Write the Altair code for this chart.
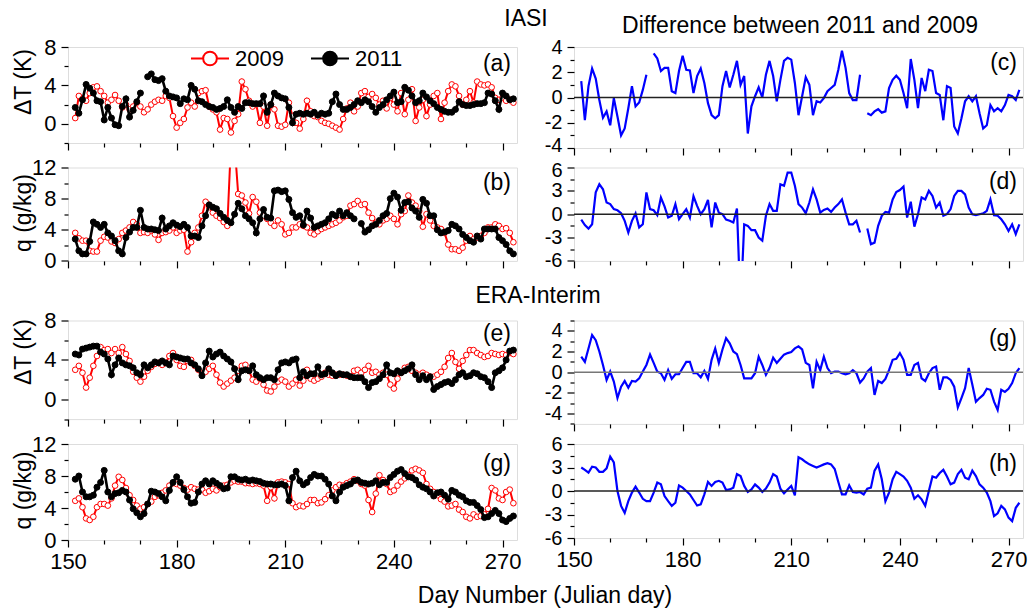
import altair as alt
import pandas as pd

FONT = "Liberation Sans"
DAYS = list(range(152, 274))  # Julian days 152..273

# ---------------- IASI, Delta T (K) ----------------
dT_iasi_2009 = [
    0.6, 2.9, 2.6, 2.4, 3.2, 3.8, 3.9, 3.4, 2.9, 2.2,
    2.5, 3.0, 2.4, 1.7, 2.0, 1.5, 1.8, 2.2, 1.8, 1.2,
    1.5, 2.0, 2.3, 2.5, 2.4, 2.9, 2.7, 0.8, -0.4, 0.1,
    0.5, 1.7, 2.2, 1.8, 3.2, 3.4, 3.5, 1.8, 1.5, 1.2,
    -0.6, 0.6, 0.5, -0.9, 0.3, 1.0, 4.4, 3.6, 2.4, 1.8,
    2.0, 0.1, 1.8, -0.2, 2.0, 1.5, -0.2, -0.3, -0.1, 2.2,
    0.8, 0.1, -0.5, 0.5, 2.4, 1.3, 0.8, 0.7, 0.3, 0.1,
    0.0, -0.2, -0.4, -0.6, 0.5, 1.6, 2.2, 1.3, 1.8, 3.2,
    3.4, 2.8, 3.1, 2.7, 2.0, 2.4, 1.6, 2.7, 2.0, 1.3,
    3.2, 1.0, 2.5, 3.6, 0.3, 1.7, 2.5, 0.8, 2.0, 2.9,
    3.2, 0.5, 2.2, 3.4, 4.1, 3.9, 2.9, 2.0, 2.5, 3.4,
    2.2, 4.4, 4.1, 4.0, 4.1, 3.8, 2.7, 2.5, 2.7, 2.4,
    2.5, 2.2,
]
dT_iasi_2011 = [
    1.7, 1.1, 2.5, 4.1, 3.7, 3.2, 2.4, 2.3, 0.4, 1.7,
    0.6, -0.1, -0.2, 1.8, 2.6, 0.7, 1.4, 2.3, 3.2, None,
    4.9, 5.2, 4.6, 4.5, 4.7, 3.4, 2.9, 2.8, 2.7, 2.1,
    2.6, 2.5, 4.0, 3.6, 2.4, 2.3, 2.0, 1.8, 1.7, 1.5,
    1.6, 1.8, 2.5, 1.7, 1.2, 1.8, 1.6, 2.2, 2.2, 2.1,
    2.1, 2.1, 2.9, 1.2, 2.0, 3.2, 2.9, 2.7, 2.6, 1.7,
    0.1, 1.0, 1.1, 1.0, 1.1, 1.0, 1.2, 0.9, 1.1, 1.0,
    1.1, 2.3, 3.1, 2.0, 1.5, 1.5, 1.7, 2.0, 2.4, 2.2,
    2.5, 2.3, 1.8, 1.2, 1.7, 2.0, 2.5, 2.9, 3.3, 2.2,
    2.3, 3.8, 3.5, 2.9, 2.2, 2.4, 3.2, 2.8, 2.4, 2.1,
    1.7, 1.5, 1.3, 1.2, 1.2, 1.5, 2.3, 2.0, 1.9, 1.9,
    2.0, 2.1, 2.1, 2.2, 3.2, 3.1, 2.4, 1.5, 3.2, 2.9,
    2.5, 2.6,
]

# ---------------- IASI, q (g/kg) ----------------
q_iasi_2009 = [
    3.6, 2.9, 2.6, 2.6, 1.3, 1.2, 1.2, 2.6, 3.1, 3.0,
    2.5, 2.3, 2.8, 3.6, 3.9, 4.3, 5.0, 4.7, 3.6, 3.7,
    3.6, 3.9, 3.4, 2.7, 3.6, 3.7, 3.9, 4.3, 3.6, 3.9,
    4.0, 1.2, 2.4, 3.6, 4.3, 5.8, 7.6, 6.9, 6.2, 5.8,
    5.5, 5.0, 4.5, 15.0, 15.0, 8.6, 8.4, 7.5, 6.1, 8.2,
    7.6, 6.2, 5.8, 5.4, 4.9, 4.5, 5.2, 4.7, 3.4, 3.6,
    4.3, 4.3, 4.7, 4.5, 4.3, 3.6, 3.4, 3.8, 4.1, 4.3,
    4.5, 4.7, 4.9, 5.2, 5.6, 5.8, 7.1, 7.3, 7.7, 7.2,
    7.3, 6.2, 5.5, 4.9, 4.7, 5.2, 5.4, 5.8, 5.4, 4.7,
    6.0, 6.4, 8.4, 7.5, 7.1, 6.4, 4.4, 6.0, 5.2, 4.5,
    4.3, 4.1, 3.6, 2.1, 1.5, 1.5, 1.3, 1.7, 2.6, 3.2,
    2.8, 3.0, 3.2, 3.6, 4.3, 4.3, 4.7, 4.5, 4.1, 4.2,
    3.6, 2.4,
]
q_iasi_2011 = [
    2.8, 1.3, 0.9, 0.9, 2.5, 5.0, 4.7, 4.3, 4.7, 3.6,
    3.2, 2.6, 1.3, 0.9, 3.0, 3.7, 4.3, 4.3, 6.5, 4.3,
    4.1, 4.1, 4.0, 3.9, 5.5, 4.1, 4.5, 4.9, 4.6, 4.4,
    4.7, 4.3, 3.2, 3.2, 3.0, 4.5, 5.8, 7.2, 6.9, 6.7,
    6.1, 5.6, 5.2, 4.9, 6.0, 7.4, 6.7, 5.8, 5.4, 4.9,
    3.6, 5.4, 6.6, 5.6, 5.5, 9.0, 9.1, 8.9, 9.0, 7.9,
    6.2, 5.6, 5.8, 4.6, 6.4, 5.5, 4.3, 4.5, 4.7, 4.9,
    5.4, 6.0, 5.8, 6.4, 5.8, 6.2, 5.8, 5.4, None, 4.8,
    3.7, 4.0, 4.5, 4.7, 5.2, 5.8, 6.1, 8.0, 8.7, 8.2,
    6.5, 7.5, 7.6, 6.8, 6.4, 5.6, 7.9, 7.4, 5.8, 5.8,
    4.0, 3.6, 3.7, 3.9, 4.7, 4.5, 4.1, 3.4, 3.0, 2.6,
    2.4, 3.2, 2.8, 4.1, 4.1, 4.1, 4.1, 3.0, 2.6, 2.1,
    1.3, 0.9,
]

# ---------------- ERA-Interim, Delta T (K) ----------------
dT_era_2009 = [
    3.0, 3.4, 2.7, 1.2, 2.2, 3.4, 4.4, 5.3, 5.0, 5.1,
    4.7, 5.1, 4.7, 5.3, 4.6, 3.9, 2.8, 2.2, 1.8, 2.3,
    2.9, 3.3, 3.6, 3.7, 3.5, 3.7, 4.4, 4.7, 4.0, 3.4,
    3.3, 3.9, 4.0, 3.4, 3.0, 2.6, 2.8, 3.1, 3.4, 2.5,
    1.7, 1.3, 1.6, 1.9, 2.2, 2.9, 3.4, 3.5, 2.9, 2.0,
    1.8, 2.1, 1.5, 0.9, 0.8, 1.3, 1.8, 2.0, 1.8, 1.3,
    1.6, 2.0, 1.4, 1.9, 3.0, 2.1, 1.9, 2.1, 2.3, 2.7,
    2.5, 2.4, 2.5, 2.5, 2.5, 2.4, 2.3, 2.9, 3.0, 2.7,
    3.0, 3.4, 2.7, 2.8, 2.5, 2.7, 2.5, 1.5, 1.1, 2.1,
    2.7, 3.2, 3.3, 2.9, 2.7, 2.5, 2.7, 2.5, 2.3, 2.3,
    2.5, 2.8, 3.3, 4.2, 4.7, 3.8, 3.1, 3.9, 4.5, 5.0,
    5.0, 4.7, 4.5, 4.3, 4.4, 4.7, 4.6, 4.5, 4.6, 4.5,
    4.7, 4.6,
]
dT_era_2011 = [
    4.6, 4.5, 5.1, 5.2, 5.3, 5.4, 5.4, 4.8, 4.6, 4.1,
    2.5, 3.5, 4.2, 3.7, 3.5, 3.4, 3.2, 2.7, 2.5, 3.5,
    3.2, 3.5, 3.8, 3.7, 3.9, 3.7, 3.5, 4.4, 4.3, 4.2,
    4.1, 4.1, 3.7, 3.5, 3.1, 2.4, 3.7, 4.9, 4.3, 4.6,
    4.8, 4.4, 4.1, 3.8, 3.1, 2.0, 2.9, 3.0, 2.9, 3.4,
    2.5, 2.2, 2.0, 2.2, 2.2, 2.0, 3.0, 3.7, 3.8, 3.7,
    4.0, 4.1, 2.2, 2.8, 2.4, 2.6, 2.6, 3.3, 2.5, 2.6,
    3.1, 2.7, 2.4, 2.6, 2.5, 2.5, 2.3, 2.2, 2.2, 2.2,
    1.8, 1.2, 1.7, 1.8, 2.1, 2.5, 3.5, 2.7, 2.6, 2.9,
    2.7, 2.9, 3.1, 3.5, 2.5, 2.0, 2.4, 2.0, 2.3, 1.0,
    1.3, 1.5, 1.7, 1.8, 1.6, 2.0, 2.5, 2.7, 2.3, 2.4,
    2.7, 2.6, 2.3, 2.2, 1.8, 1.2, 2.7, 2.9, 3.2, 4.0,
    4.9, 5.0,
]

# ---------------- ERA-Interim, q (g/kg) ----------------
q_era_2009 = [
    4.9, 5.2, 4.1, 2.7, 2.5, 2.9, 4.1, 4.5, 4.5, 4.3,
    5.2, 6.8, 7.9, 7.5, 6.5, 5.6, 5.0, 4.3, 3.9, 4.1,
    4.5, 4.8, 5.4, 5.6, 5.9, 6.2, 6.8, 7.1, 7.0, 6.8,
    6.5, 6.3, 6.6, 6.4, 6.3, 6.3, 5.9, 6.1, 6.4, 6.2,
    6.6, 6.8, 6.9, 7.2, 7.4, 7.3, 7.3, 7.1, 7.1, 7.0,
    7.1, 7.0, 6.8, 4.9, 6.6, 5.2, 7.2, 7.3, 7.2, 7.0,
    4.6, 4.1, 4.3, 4.2, 4.5, 5.0, 5.0, 4.6, 4.7, 5.1,
    5.6, 6.2, 6.6, 6.9, 6.8, 7.1, 7.3, 7.6, 7.4, 7.0,
    6.8, 5.0, 3.5, 5.8, 8.1, 7.5, 7.0, 6.0, 6.2, 6.8,
    7.3, 7.7, 8.1, 8.7, 8.9, 8.7, 8.4, 7.0, 6.4, 6.0,
    5.6, 5.1, 4.8, 4.2, 4.3, 4.5, 3.8, 3.5, 2.9, 2.7,
    3.2, 2.9, 3.0, 3.2, 3.9, 6.5, 6.2, 5.2, 5.0, 6.0,
    6.3, 4.6,
]
q_era_2011 = [
    7.6, 8.0, 6.0, 5.4, 5.4, 5.6, 6.6, 7.2, 8.7, 6.0,
    5.4, 5.8, 5.9, 6.2, 6.0, 5.0, 3.9, 3.4, 2.9, 3.3,
    4.5, 6.1, 6.0, 5.8, 5.4, 4.9, 6.2, 7.2, 7.9, 7.2,
    6.3, 5.4, 4.6, 4.7, 6.0, 7.0, 7.4, 7.0, 7.4, 7.1,
    6.8, 6.4, 6.5, 7.9, 7.9, 7.6, 7.5, 7.6, 7.4, 7.5,
    7.4, 7.3, 7.1, 7.0, 7.0, 6.9, 6.9, 7.0, 6.8, 4.9,
    7.8, 8.6, 7.4, 6.9, 7.2, 7.8, 8.2, 8.0, 8.0, 7.6,
    7.0, 5.5, 4.9, 6.0, 6.6, 6.8, 7.0, 7.4, 7.5, 7.2,
    7.1, 7.0, 7.1, 7.4, 6.9, 7.2, 7.2, 7.8, 8.2, 8.6,
    8.8, 8.3, 7.9, 7.8, 7.5, 6.9, 6.6, 6.4, 6.0, 5.5,
    5.9, 6.0, 5.6, 5.1, 6.2, 6.0, 5.6, 5.4, 4.9, 4.7,
    4.7, 4.3, 3.8, 2.8, 2.9, 3.3, 3.7, 3.3, 2.5, 2.3,
    2.7, 3.0,
]

# ---------------- Differences 2011 - 2009 ----------------
diff_dT_iasi = [
    1.3, -1.8, 0.9, 2.3, 1.5, -0.2, -1.6, -1.1, -2.2, -0.05,
    -1.5, -3.0, -2.45, -0.85, 0.9, -0.7, -0.4, 0.6, 1.8, None,
    3.5, 3.1, 2.1, 2.35, 2.35, 0.5, 0.35, 2.1, 3.3, 2.2,
    2.15, 0.35, 1.7, 2.3, 1.15, -0.45, -1.4, -1.65, -1.4, 0.9,
    2.1, 0.8, 1.8, 2.9, 1.0, 1.7, -2.85, -0.7, 0.1, 0.8,
    0.0, 1.8, 2.9, 1.7, -0.3, 1.4, 2.9, 3.15, 3.0, 1.15,
    -1.4, 0.1, 1.6, 1.0, -1.4, -0.3, -0.4, -0.05, 0.5, 0.75,
    1.0, 2.2, 3.7, 2.35, 0.35, -0.2, -0.2, 1.8, None, -1.25,
    -1.4, -1.1, -0.93, -1.2, -1.1, 0.75, 1.4, 1.73, 1.4, 0.35,
    -0.85, 3.05, 1.4, -0.85, 1.55, 0.5, 2.2, 2.1, 0.35, 0.2,
    -1.8, 0.9, 0.75, -2.3, -2.85, -1.65, -0.3, 0.1, -0.3, 0.1,
    -1.25, -2.45, -2.2, -0.6, -1.1, -0.85, -1.1, -0.6, 0.2, 0.1,
    -0.2, 0.6,
]
diff_q_iasi = [
    -0.7, -1.4, -1.85, -1.3, 2.8, 3.85, 3.2, 1.5, 1.3, 0.65,
    0.5, 0.13, -0.85, -2.35, -0.85, 0.1, -1.7, -1.3, 2.8, 0.65,
    0.5, -0.13, 2.15, 1.0, -0.43, -0.2, 1.3, -0.65, 0.0, 0.65,
    -0.43, 2.3, 1.07, 0.0, 0.65, 1.85, -1.7, 1.5, 0.2, 0.0,
    -0.7, -0.85, -1.07, 0.73, -12.0, -1.3, -1.5, -2.05, -2.05, -3.0,
    -3.4, -0.2, 1.3, 0.43, 0.43, 3.85, 3.65, 5.35, 5.35, 3.65,
    1.3, 0.85, 0.13, 1.5, 3.2, 1.9, 0.2, 0.55, 0.73, 0.3,
    0.85, 1.3, 1.9, 0.2, -1.3, -1.3, -0.85, -2.35, None, -1.85,
    -3.85, -3.65, -1.5, -0.2, 0.3, 0.2, 1.9, 2.85, 3.1, 3.55,
    -0.43, 1.6, -1.6, 0.0, 2.15, 1.9, 3.0, 2.35, 0.85, 1.5,
    -0.2, 0.0, 0.65, 2.35, 3.0, 3.0, 2.55, 0.85, 0.0, -0.13,
    0.0, 0.1, 0.43, 1.9, -0.13, -0.2, -0.65, -1.3, -2.15, -1.3,
    -2.55, -1.3,
]
diff_dT_era = [
    1.5, 1.0, 2.3, 3.6, 3.1, 2.0, 0.7, -0.75, 0.06, -0.9,
    -2.5, -1.4, -0.85, -1.5, -0.85, -0.9, -0.6, 0.06, 0.7, 1.7,
    0.9, 0.06, -0.1, -0.75, 0.2, -0.65, -0.2, -0.2, 0.4, 1.0,
    1.0, -0.1, -0.1, -0.5, 0.13, -0.65, 1.2, 2.3, 0.9, 2.2,
    3.3, 2.8, 2.0, 1.75, 0.7, -0.6, -0.6, -0.6, -0.1, 1.5,
    0.7, -0.25, 0.4, 1.4, 0.9, 1.3, 1.7, 1.85, 1.95, 2.3,
    2.5, 2.2, 0.9, 0.7, -1.55, 1.0, 0.2, 1.5, 0.4, -0.1,
    0.06, 0.06, -0.1, -0.2, -0.1, 0.2, -0.1, -1.0, -0.6, 0.06,
    0.4, -2.2, -0.85, -1.05, -0.65, 0.2, 1.2, 1.3, 1.85, 1.2,
    -0.25, -0.25, 0.7, 0.9, -0.6, -0.85, -0.1, 0.4, 0.55, -1.7,
    -0.5, -0.5, -0.75, -1.4, -3.4, -2.5, -1.55, 0.4, -1.2, -2.85,
    -2.5, -2.2, -1.6, -1.7, -2.85, -3.65, -1.7, -1.9, -1.6, -1.05,
    -0.1, 0.4,
]
diff_q_era = [
    3.0, 2.7, 2.35, 3.1, 3.0, 2.45, 2.45, 2.9, 4.4, 3.65,
    0.0, -1.9, -2.8, -1.3, -0.2, 0.55, -0.2, -1.0, -1.3, -1.3,
    -0.2, 1.07, 0.85, -0.65, -1.3, -1.9, -1.5, 0.7, 0.43, 0.0,
    -0.43, -1.15, -1.85, -1.7, -0.43, 1.15, 0.65, 1.15, 1.3, 1.07,
    0.13, 0.2, 0.43, 2.15, 1.9, 0.65, -0.13, 0.2, 0.85, 0.43,
    -0.13, 0.3, 1.07, 2.15, 1.85, 0.3, -0.3, 0.2, 0.65, -0.55,
    4.3, 4.05, 3.7, 3.4, 3.2, 3.0, 3.2, 3.4, 3.55, 3.4,
    2.8, 1.15, -0.43, -0.43, 0.73, -0.13, -0.2, -0.13, -0.43, 0.3,
    0.43, 2.6, 3.4, 1.5, -1.3, -0.2, 1.5, 2.45, 2.15, 1.85,
    1.3, 0.43, -1.0, -0.55, -1.07, -1.9, 0.0, 1.85, 1.7, 2.3,
    2.7, 1.85, 0.85, 1.07, 2.15, 2.7, 1.7, 1.5, 2.6, 1.9,
    0.85, 0.43, -0.2, -1.3, -3.2, -2.85, -1.9, -2.35, -3.4, -3.85,
    -2.15, -1.5,
]

X_TICKS = list(range(150, 271, 10))
X_DOMAIN = [150, 274]
YEARS = ["2009", "2011"]
W = 449
LEGEND_PATH = ("M-1,0H-0.36M0.36,0H1"
               "M0.36,0A0.36,0.36,0,1,1,-0.36,0A0.36,0.36,0,1,1,0.36,0")


def to_df(values, name):
    assert len(values) == len(DAYS), (name, len(values))
    rows, seg = [], 0
    for d, v in zip(DAYS, values):
        if v is None:
            seg += 1
            continue
        rows.append({"day": d, "val": v, "year": name, "seg": f"{name}_{seg}"})
    return pd.DataFrame(rows)


def x_enc(show_labels):
    axis = alt.Axis(
        values=X_TICKS, labels=show_labels,
        labelExpr="datum.value % 30 === 0 ? datum.label : ''",
        tickSize={"condition": {"test": "datum.value % 30 === 0", "value": 7}, "value": 4},
        tickColor="black", tickWidth=1.2, domain=False, grid=False,
        labelFont=FONT, labelFontSize=22, labelColor="black", labelPadding=4,
        labelFlush=False, labelOverlap=False,
    )
    return alt.X("day:Q", scale=alt.Scale(domain=X_DOMAIN, nice=False, zero=False),
                 axis=axis, title=None)


def y_enc(domain, values, mod, title=None, title_y=None, label_size=22, nudge=None):
    kw = dict(
        values=values,
        labelExpr=f"datum.value % {mod} === 0 ? '' + datum.value : ''",
        tickSize={"condition": {"test": f"datum.value % {mod} === 0", "value": 7}, "value": 4},
        tickColor="black", tickWidth=1.2, domain=False, grid=False,
        labelFont=FONT, labelFontSize=label_size, labelColor="black", labelPadding=5,
        labelOverlap=False, labelFlush=False,
    )
    if nudge is not None:
        value, offset = nudge
        kw["labelOffset"] = {"condition": {"test": f"datum.value === {value}", "value": offset}, "value": 0}
    if title is not None:
        kw.update(titleX=-45, titleY=title_y, titleAngle=270, titleAlign="center",
                  titleBaseline="middle", titleFont=FONT, titleFontSize=23,
                  titleFontWeight="normal", titleColor="black")
    return alt.Y("val:Q", scale=alt.Scale(domain=domain, nice=False, zero=False),
                 axis=alt.Axis(**kw), title=title)


def text_layer(text, x, y, align="center", size=23):
    return alt.Chart(pd.DataFrame({"t": [text]})).mark_text(
        align=align, baseline="middle", font=FONT, fontSize=size, color="black"
    ).encode(x=alt.value(x), y=alt.value(y), text="t:N")


def left_panel(v09, v11, ydom, yvals, mod, ytitle, title_y, height, label, label_y,
               show_x=False, legend=False, extra=()):
    d09, d11 = to_df(v09, "2009"), to_df(v11, "2011")
    x, y = x_enc(show_x), y_enc(ydom, yvals, mod, ytitle, title_y)
    if legend:
        leg = alt.Legend(title=None, orient="none", legendX=122, legendY=-8.5,
                         direction="horizontal", symbolType=LEGEND_PATH, symbolSize=1444,
                         symbolStrokeWidth=2, labelFont=FONT, labelFontSize=22,
                         labelColor="black", labelOffset=5, columnPadding=23, padding=0)
        s09 = s11 = alt.Stroke("year:N", scale=alt.Scale(domain=YEARS, range=["#ff0000", "#000000"]), legend=leg)
        f09 = f11 = alt.Fill("year:N", scale=alt.Scale(domain=YEARS, range=["#ffffff", "#000000"]), legend=leg)
    else:
        s09, s11 = alt.value("#ff0000"), alt.value("#000000")
        f09, f11 = alt.value("#ffffff"), alt.value("#000000")
    l09 = alt.Chart(d09).mark_line(strokeWidth=2, clip=True).encode(x=x, y=y, detail="seg:N", stroke=s09)
    p09 = alt.Chart(d09).mark_point(size=32, strokeWidth=1, opacity=1, clip=True).encode(x=x, y=y, stroke=s09, fill=f09)
    l11 = alt.Chart(d11).mark_line(strokeWidth=2.6, clip=True).encode(x=x, y=y, detail="seg:N", stroke=s11)
    p11 = alt.Chart(d11).mark_point(size=36, strokeWidth=1, opacity=1, clip=True).encode(x=x, y=y, stroke=s11, fill=f11)
    layers = [l09, p09, l11, p11, text_layer(label, W - 6, label_y, align="right")] + list(extra)
    return alt.layer(*layers).properties(width=W, height=height)


def right_panel(vals, ydom, yvals, mod, height, label, label_y, show_x=False,
                zero_color="#222222", nudge=None, extra=()):
    d = to_df(vals, "diff")
    x, y = x_enc(show_x), y_enc(ydom, yvals, mod, label_size=20, nudge=nudge)
    line = alt.Chart(d).mark_line(color="#0000ff", strokeWidth=2.2, clip=True).encode(x=x, y=y, detail="seg:N")
    zero = alt.Chart(pd.DataFrame({"val": [0]})).mark_rule(color=zero_color, strokeWidth=1.5).encode(y=y)
    layers = [line, zero, text_layer(label, W - 6, label_y, align="right")] + list(extra)
    return alt.layer(*layers).properties(width=W, height=height)


def spacer(h):
    return alt.Chart(pd.DataFrame({"v": [0]})).mark_point(opacity=0).encode(
        x=alt.X("v:Q", axis=None), y=alt.Y("v:Q", axis=None)
    ).properties(width=W, height=h, view=alt.ViewBackground(stroke="transparent"))


pa = left_panel(dT_iasi_2009, dT_iasi_2011, [-2, 8], [-2, 0, 2, 4, 6, 8], 4, "ΔT (K)", 34.5,
                96, "(a)", 17, legend=True, extra=[text_layer("IASI", 458, -28.5)])
pb = left_panel(q_iasi_2009, q_iasi_2011, [0, 12], [0, 2, 4, 6, 8, 10, 12], 4, "q (g/kg)", 45,
                93.4, "(b)", 15)
pe = left_panel(dT_era_2009, dT_era_2011, [-2, 8], [-2, 0, 2, 4, 6, 8], 4, "ΔT (K)", 31,
                98.6, "(e)", 13, extra=[text_layer("ERA-Interim", 470, -24.7)])
pgl = left_panel(q_era_2009, q_era_2011, [0, 12], [0, 2, 4, 6, 8, 10, 12], 4, "q (g/kg)", 46,
                 96, "(g)", 20, show_x=True,
                 extra=[text_layer("Day Number (Julian day)", 477, 152)])

pc = right_panel(diff_dT_iasi, [-4, 4], [-4, -3, -2, -1, 0, 1, 2, 3, 4], 2, 101, "(c)", 16,
                 nudge=(-4, -3),
                 extra=[text_layer("Difference between 2011 and 2009", 226, -20.7)])
pd_ = right_panel(diff_q_iasi, [-6, 6], [-6, -4.5, -3, -1.5, 0, 1.5, 3, 4.5, 6], 3, 93.4, "(d)", 14,
                  nudge=(6, 3))
pg = right_panel(diff_dT_era, [-5, 5], [-5, -4, -3, -2, -1, 0, 1, 2, 3, 4, 5], 2, 103.4, "(g)", 18,
                 zero_color="#777777")
ph = right_panel(diff_q_era, [-6, 6], [-6, -4.5, -3, -1.5, 0, 1.5, 3, 4.5, 6], 3, 94, "(h)", 20,
                 show_x=True)

chart = alt.concat(
    pa, pc, pb, pd_, spacer(19.6), spacer(19.6), pe, pg, pgl, ph,
    columns=2, spacing={"row": 19.5, "column": 57}, bounds="flush",
).properties(
    padding={"left": 11, "top": 7, "right": 0, "bottom": 0}
).configure_view(stroke="black", strokeWidth=1.3).configure(font=FONT)

chart.save("out.html", embed_options={"renderer": "svg", "actions": False})
